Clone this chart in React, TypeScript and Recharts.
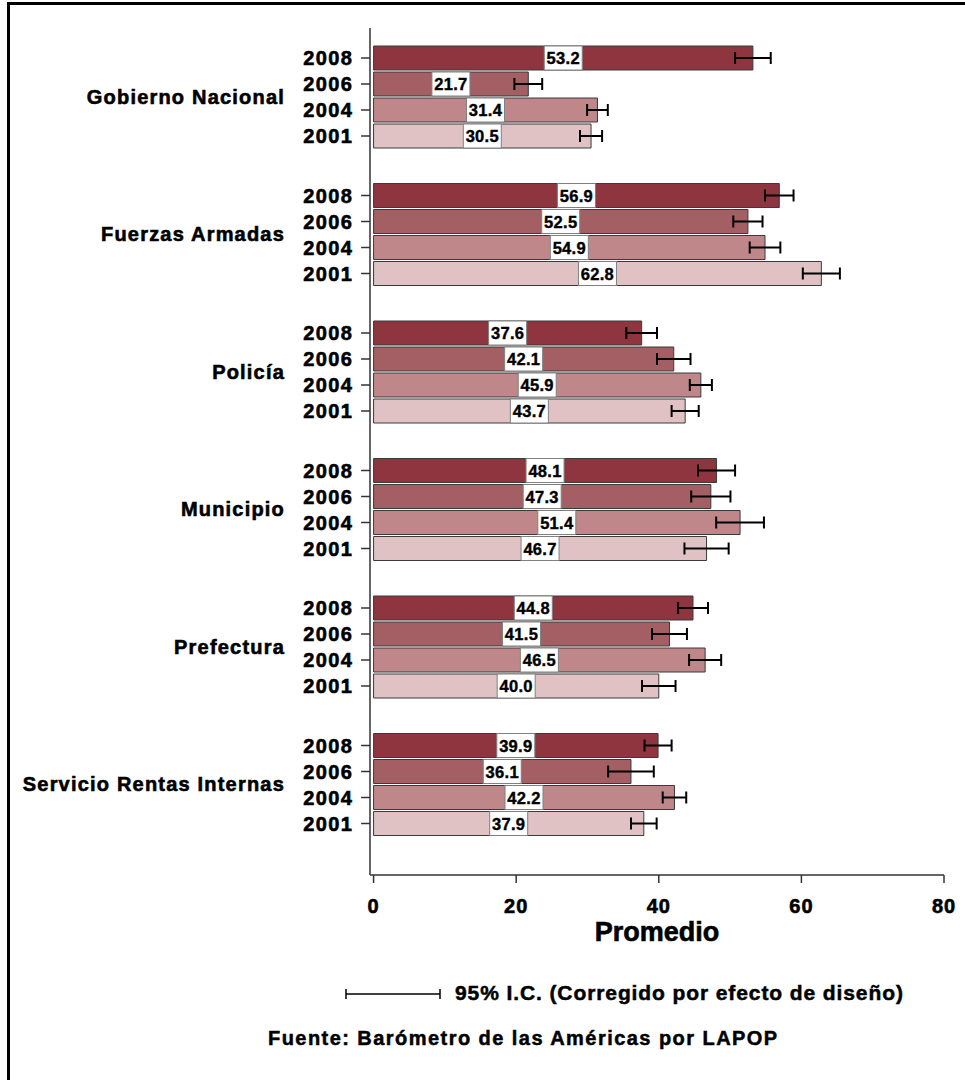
import * as React from 'react';
import { BarChart, Bar, XAxis, YAxis, ErrorBar, LabelList } from 'recharts';

const groups = ['Gobierno Nacional', 'Fuerzas Armadas', 'Policía', 'Municipio', 'Prefectura', 'Servicio Rentas Internas'];
const years = ['2008', '2006', '2004', '2001'];

const mean2008 = [53.2, 56.9, 37.6, 48.1, 44.8, 39.9];
const mean2006 = [21.7, 52.5, 42.1, 47.3, 41.5, 36.1];
const mean2004 = [31.4, 54.9, 45.9, 51.4, 46.5, 42.2];
const mean2001 = [30.5, 62.8, 43.7, 46.7, 40.0, 37.9];

// half-width of the 95% confidence interval
const ci2008 = [2.5, 2.0, 2.15, 2.6, 2.1, 1.9];
const ci2006 = [1.95, 2.05, 2.35, 2.75, 2.45, 3.2];
const ci2004 = [1.45, 2.15, 1.55, 3.35, 2.25, 1.65];
const ci2001 = [1.55, 2.6, 1.9, 3.1, 2.35, 1.8];

const xTicks = [0, 20, 40, 60, 80];

const FONT = '"Liberation Sans", Arial, Helvetica, sans-serif';
const colors = ['#8e3540', '#a35f63', '#bf8789', '#e0c2c4'];

const means = [mean2008, mean2006, mean2004, mean2001];
const cis = [ci2008, ci2006, ci2004, ci2001];

const data = groups.map((group, i) => {
    const row: any = { group };
    years.forEach((yr, k) => {
        row['v' + yr] = means[k][i];
        row['e' + yr] = cis[k][i];
    });
    return row;
});

// heavy bold text: a thin outline in the fill colour thickens the strokes
const heavy = { fontFamily: FONT, fontWeight: 700, fill: '#000', stroke: '#000', strokeWidth: 0.6 };

const GroupTick = (props: any) => {
    const { x, y, payload } = props;
    return (
        <text x={x} y={y} dy={7} textAnchor="end" fontSize={20} letterSpacing={1.2} {...heavy}>
            {payload.value}
        </text>
    );
};

const ValueTick = (props: any) => {
    const { x, y, payload } = props;
    return (
        <text x={x} y={y} dy={14} textAnchor="middle" fontSize={20} letterSpacing={1} {...heavy}>
            {payload.value}
        </text>
    );
};

// year text + small tick on the left of each bar
const yearLabel = (year: string) => (props: any) => {
    const { x, y, height } = props;
    const cy = y + height / 2;
    const axisX = x - 3.5;
    return (
        <g>
            <line x1={axisX - 9} x2={axisX} y1={cy} y2={cy} stroke="#333" strokeWidth={1.5} />
            <text x={axisX - 17} y={cy} dy={7} textAnchor="end" fontSize={20} letterSpacing={1.3} {...heavy}>
                {year}
            </text>
        </g>
    );
};

const ValueBox = (props: any) => {
    const { x, y, width, height, value } = props;
    const cx = x + width / 2;
    const cy = y + height / 2;
    return (
        <g>
            <rect x={cx - 19} y={y} width={38} height={height} fill="#fff" stroke="#808080" strokeWidth={1} />
            <text x={cx} y={cy} dy={6} textAnchor="middle" fontSize={16.5} letterSpacing={0.3} {...heavy} strokeWidth={0.4}>
                {Number(value).toFixed(1)}
            </text>
        </g>
    );
};

const htmlText: React.CSSProperties = {
    position: 'absolute', fontFamily: FONT, fontWeight: 700, whiteSpace: 'nowrap',
    WebkitTextStroke: '0.5px #000',
};

export default function App() {
    return (
        <div style={{ position: 'absolute', left: 0, top: 0, width: 965, height: 1080, overflow: 'hidden', background: '#fff' }}>
            <div style={{ position: 'absolute', left: 7, top: 2, width: 2000, height: 2000, borderLeft: '3px solid #000', borderTop: '3px solid #000' }} />
            <div style={{ position: 'absolute', left: 0, top: 0 }}>
                <BarChart width={965} height={1080} data={data} layout="vertical"
                    margin={{ top: 28, right: 21, left: 10, bottom: 135 }}
                    barSize={24} barGap={2}>
                    <XAxis type="number" domain={[-0.5, 80]} ticks={xTicks} allowDataOverflow
                        height={70} tickSize={8} tickMargin={16} tick={<ValueTick />}
                        axisLine={{ stroke: '#333', strokeWidth: 1.5 }}
                        tickLine={{ stroke: '#333', strokeWidth: 1.5 }}
                        label={{ value: 'Promedio', position: 'insideBottom', offset: 4, fill: '#000', stroke: '#000', strokeWidth: 0.6, fontSize: 27, fontWeight: 700, fontFamily: FONT }} />
                    <YAxis type="category" dataKey="group" width={360} padding={{ top: 0, bottom: 22 }}
                        tickLine={false} tickSize={8} tickMargin={77} tick={<GroupTick />}
                        axisLine={{ stroke: '#333', strokeWidth: 1.5 }} />
                    {years.map((yr, k) => (
                        <Bar key={yr} dataKey={'v' + yr} fill={colors[k]} stroke="#3a3a3a" strokeWidth={1}
                            isAnimationActive={false}>
                            <ErrorBar dataKey={'e' + yr} direction="x" width={6} stroke="#000" strokeWidth={2}
                                isAnimationActive={false} />
                            <LabelList dataKey={'v' + yr} content={yearLabel(yr)} />
                            <LabelList dataKey={'v' + yr} content={ValueBox} />
                        </Bar>
                    ))}
                </BarChart>
            </div>
            <svg style={{ position: 'absolute', left: 344, top: 985 }} width={100} height={18}>
                <line x1={2} x2={96} y1={9} y2={9} stroke="#000" strokeWidth={1.5} />
                <line x1={2} x2={2} y1={4} y2={14} stroke="#000" strokeWidth={1.5} />
                <line x1={96} x2={96} y1={4} y2={14} stroke="#000" strokeWidth={1.5} />
            </svg>
            <div style={{ ...htmlText, left: 455, top: 981, fontSize: 21, letterSpacing: 0.9, lineHeight: '24px' }}>
                95% I.C. (Corregido por efecto de diseño)
            </div>
            <div style={{ ...htmlText, left: 268, top: 1027, fontSize: 20, letterSpacing: 1.45, lineHeight: '22px' }}>
                Fuente: Barómetro de las Américas por LAPOP
            </div>
        </div>
    );
}
